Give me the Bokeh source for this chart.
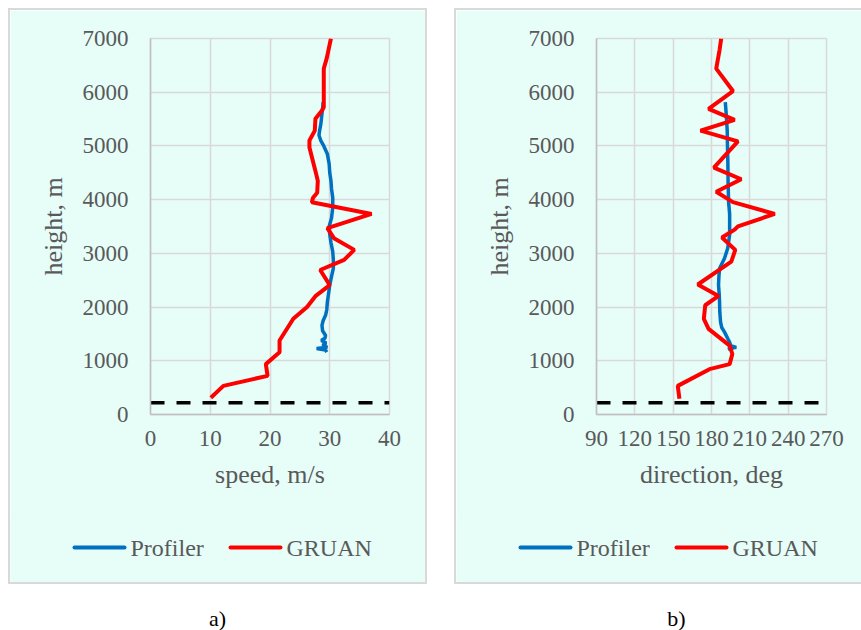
from bokeh.plotting import figure
from bokeh.models import Range1d, Label, FixedTicker, Spacer, BoxAnnotation
from bokeh.layouts import row, column
from bokeh.embed import file_html
from bokeh.resources import INLINE

# ---------------- data ----------------
gruan_speed_h = [313, 533, 720, 938, 1158, 1377, 1782, 2002, 2203, 2409, 2690, 2878, 3065, 3283,
                 3471, 3734, 3953, 4034, 4128, 4350, 4535, 4972, 5100, 5285, 5505, 5660, 5720,
                 5975, 6440, 6635, 7000]
gruan_speed = [10.1, 12.2, 19.6, 19.3, 21.6, 21.6, 23.9, 26.2, 27.6, 30.0, 28.4, 32.4, 34.1, 30.7,
               29.6, 37.0, 27.0, 27.2, 27.9, 28.0, 27.6, 26.6, 26.6, 27.5, 27.6, 28.7, 29.0,
               29.0, 29.0, 29.5, 30.2]

prof_speed_h = [1160, 1200, 1230, 1250, 1290, 1330, 1380, 1420, 1470, 1560, 1660, 1750, 1846,
                1950, 2096, 2250, 2410, 2570, 2720, 2880, 3034, 3200, 3350, 3500, 3660, 3850,
                4034, 4200, 4350, 4500, 4665, 4850, 5000, 5100, 5200, 5285, 5400, 5500, 5600,
                5700, 5815]
prof_speed = [29.5, 29.3, 27.8, 29.6, 28.8, 29.4, 28.6, 29.2, 29.3, 28.8, 28.7, 28.9, 29.3,
              29.5, 29.6, 29.8, 30.0, 30.3, 30.6, 30.6, 30.5, 30.2, 30.0, 29.9, 30.3, 30.5,
              30.5, 30.3, 30.2, 30.0, 29.9, 29.6, 29.0, 28.5, 28.2, 28.3, 28.5, 28.6, 28.7,
              28.8, 28.9]

gruan_dir_h = [295, 533, 844, 938, 1126, 1283, 1595, 1782, 2034, 2208, 2420, 2846, 3065, 3296,
               3441, 3503, 3734, 3953, 4146, 4379, 4597, 5084, 5285, 5485, 5690, 6022, 6440,
               6785, 7000]
gruan_dir = [154.9, 153.6, 178.4, 194.2, 196.3, 194.2, 177.7, 174.0, 175.1, 185.5, 169.3, 195.5,
             198.6, 188.2, 198.1, 200.7, 229.5, 196.8, 183.7, 203.3, 181.9, 200.7, 171.4, 198.1,
             177.7, 196.8, 183.7, 186.3, 187.6]

prof_dir_h = [1220, 1250, 1280, 1345, 1400, 1533, 1620, 1720, 1900, 2096, 2250, 2410, 2570,
              2720, 2909, 3096, 3350, 3728, 3953, 4300, 4700, 5000, 5285, 5600, 5815]
prof_dir = [192.7, 199.4, 195.0, 194.2, 193.0, 190.2, 188.0, 187.1, 186.5, 186.3, 186.0, 185.5,
            185.8, 186.3, 190.2, 192.7, 194.2, 194.2, 193.4, 193.0, 192.8, 192.5, 192.3, 191.5,
            190.8]

ref_height = 220  # dashed reference level, m

speed_ticks = [0, 10, 20, 30, 40]
dir_ticks = [90, 120, 150, 180, 210, 240, 270]
height_ticks = [0, 1000, 2000, 3000, 4000, 5000, 6000, 7000]

series_labels = ["Profiler", "GRUAN"]
panel_captions = ["a)", "b)"]

# ---------------- style ----------------
MINT = "#e6fdf8"
GRID = "#d9d9d9"
BORDER = "2px solid #d9d9d9"
TXT = "#595959"
FONT = "Liberation Serif"
BLUE = "#0070c0"
RED = "#ff0000"


def no_align(fig):
    if "frame_align" in fig.properties():
        fig.frame_align = False


def make_plot(x_range, x_ticks, xlabel, prof_x, prof_h, gr_x, gr_h, fw, mr, right_border):
    st = {"border-top": BORDER, "border-left": BORDER}
    if right_border:
        st["border-right"] = BORDER
    p = figure(frame_width=fw, frame_height=374,
               min_border_left=140, min_border_right=mr, min_border_top=28, min_border_bottom=108,
               x_range=Range1d(*x_range), y_range=Range1d(0, 7000),
               output_backend="svg", toolbar_location=None,
               background_fill_color=MINT, border_fill_color=MINT,
               outline_line_color=GRID, outline_line_width=1.5, styles=st)
    for ax in (p.xaxis[0], p.yaxis[0]):
        ax.major_tick_line_color = None
        ax.minor_tick_line_color = None
        ax.major_tick_out = 0
        ax.major_tick_in = 0
        ax.axis_line_color = "#bfbfbf"
        ax.axis_line_width = 1.5
        ax.major_label_text_font = FONT
        ax.major_label_text_font_size = "23px"
        ax.major_label_text_color = TXT
        ax.axis_label_text_font = FONT
        ax.axis_label_text_font_size = "26px"
        ax.axis_label_text_color = TXT
        ax.axis_label_text_font_style = "normal"
    p.xaxis.ticker = FixedTicker(ticks=x_ticks)
    p.yaxis.ticker = FixedTicker(ticks=height_ticks)
    p.xaxis.axis_label = xlabel
    p.yaxis.axis_label = "height, m"
    p.xaxis.major_label_standoff = 16
    p.xaxis.axis_label_standoff = 11
    p.yaxis.major_label_standoff = 22
    p.yaxis.axis_label_standoff = 12
    p.xgrid.ticker = FixedTicker(ticks=x_ticks)
    p.ygrid.ticker = FixedTicker(ticks=height_ticks)
    for g in (p.xgrid[0], p.ygrid[0]):
        g.grid_line_color = GRID
        g.grid_line_width = 1.5

    p.line(prof_x, prof_h, line_color=BLUE, line_width=3.5)
    p.line(gr_x, gr_h, line_color=RED, line_width=4)
    p.line([x_range[0], x_range[1]], [ref_height, ref_height], line_color="black",
           line_width=3.5, line_dash="14 12")
    no_align(p)
    return p


def make_legend_strip(outer_w, right_border):
    st2 = {"border-bottom": BORDER, "border-left": BORDER}
    if right_border:
        st2["border-right"] = BORDER
    lg = figure(width=outer_w, height=66, x_range=Range1d(0, 1), y_range=Range1d(0, 1),
                output_backend="svg", toolbar_location=None, x_axis_type=None,
                y_axis_type=None, min_border=0, min_border_left=0, min_border_right=0,
                min_border_top=0, min_border_bottom=0, outline_line_color=None,
                background_fill_color=MINT, border_fill_color=MINT, styles=st2)
    lg.xgrid.visible = False
    lg.ygrid.visible = False
    yc = 37
    for (x0, x1, tx), col, lab in zip(((62, 116, 120), (218, 272, 276)), (BLUE, RED),
                                      series_labels):
        lg.add_layout(BoxAnnotation(left=x0, right=x1, bottom=yc - 2, top=yc + 2,
                                    left_units="screen", right_units="screen",
                                    bottom_units="screen", top_units="screen",
                                    fill_color=col, fill_alpha=1, line_color=None,
                                    border_radius=2))
        lg.add_layout(Label(x=tx, y=yc, x_units="screen", y_units="screen", text=lab,
                            text_font=FONT, text_font_size="24px", text_color=TXT,
                            text_align="left", text_baseline="middle"))
    no_align(lg)
    return lg


pa = make_plot((0, 40), speed_ticks, "speed, m/s", prof_speed, prof_speed_h,
               gruan_speed, gruan_speed_h, 235, 40, True)
pb = make_plot((90, 270), dir_ticks, "direction, deg", prof_dir, prof_dir_h,
               gruan_dir, gruan_dir_h, 228, 37, False)
la = make_legend_strip(419, True)
lb = make_legend_strip(407, False)

cap = figure(width=861, height=46, x_range=Range1d(0, 861), y_range=Range1d(0, 46),
             output_backend="svg", toolbar_location=None, x_axis_type=None, y_axis_type=None,
             outline_line_color=None, min_border=0, border_fill_color="white",
             background_fill_color="white")
cap.xgrid.visible = False
cap.ygrid.visible = False
for txt, xc in zip(panel_captions, (217, 676)):
    cap.add_layout(Label(x=xc, y=12, x_units="screen", y_units="screen", text=txt,
                         text_font=FONT, text_font_size="22px", text_color="black",
                         text_align="center", text_baseline="middle"))
no_align(cap)

legend_row = row(Spacer(width=8), la, Spacer(width=27), lb)
legend_row.styles = {"margin-top": "-2px"}

layout = column(Spacer(height=8),
                row(Spacer(width=8), pa, Spacer(width=27), pb),
                legend_row,
                cap)

open("out.html", "w").write(file_html(layout, INLINE))
